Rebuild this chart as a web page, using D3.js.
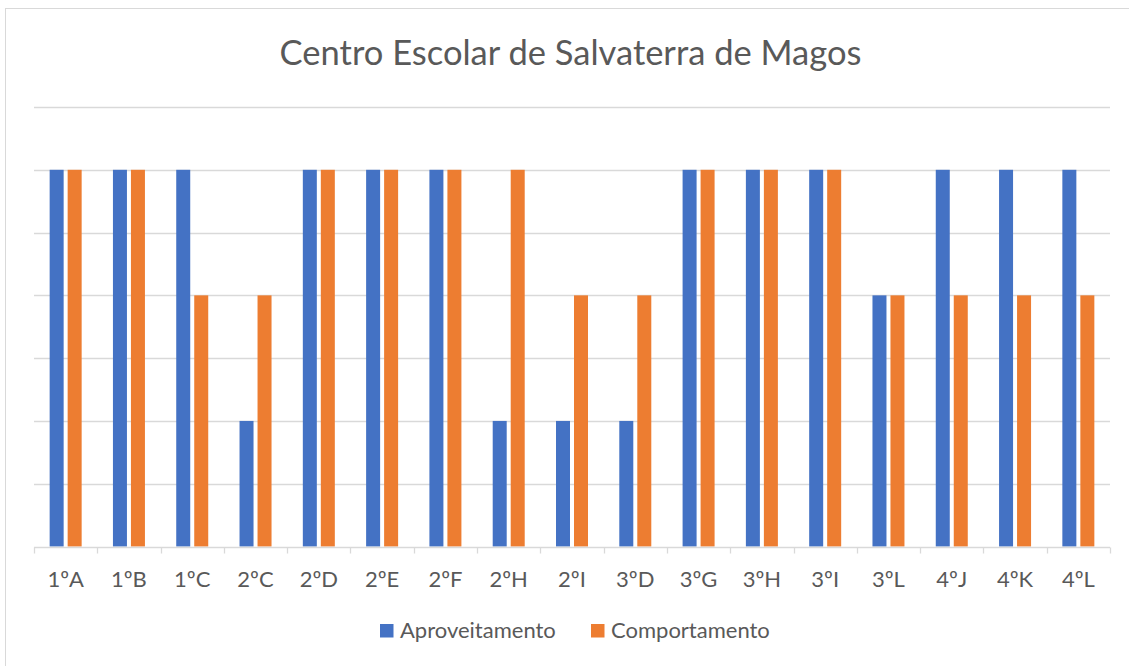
<!DOCTYPE html>
<html>
<head>
<meta charset="utf-8">
<script src="https://cdnjs.cloudflare.com/ajax/libs/d3/7.8.5/d3.min.js"></script>
<style>
  body { margin: 0; background: #fff; }
  text { font-family: Lato, "Open Sans", sans-serif; fill: #595959; }
</style>
</head>
<body>
<div id="chart"></div>
<script>
// data
const categories = ["1ºA", "1ºB", "1ºC", "2ºC", "2ºD", "2ºE", "2ºF", "2ºH", "2ºI", "3ºD", "3ºG", "3ºH", "3ºI", "3ºL", "4ºJ", "4ºK", "4ºL"];
const aproveitamento = [6, 6, 6, 2, 6, 6, 6, 2, 2, 2, 6, 6, 6, 4, 6, 6, 6];
const comportamento = [6, 6, 4, 4, 6, 6, 6, 6, 4, 4, 6, 6, 6, 4, 4, 4, 4];
const seriesNames = ["Aproveitamento", "Comportamento"];
const seriesColors = ["#4472C4", "#ED7D31"];
const yTicks = [0, 1, 2, 3, 4, 5, 6, 7];

const W = 1129, H = 666;
const svg = d3.select("#chart").append("svg")
    .attr("width", W)
    .attr("height", H);

svg.append("rect")
    .attr("width", W).attr("height", H)
    .attr("fill", "#fff");

// chart border (only top & left fall inside the picture)
svg.append("rect")
    .attr("x", 5.5).attr("y", 8.5)
    .attr("width", W + 20).attr("height", H + 20)
    .attr("fill", "none")
    .attr("stroke", "#d9d9d9");

const plot = {left: 34, right: 1110, top: 107, bottom: 546.5};

const x = d3.scaleBand()
    .domain(categories)
    .range([plot.left, plot.right]);

const y = d3.scaleLinear()
    .domain([0, 7])
    .range([plot.bottom, plot.top]);

// gridlines
svg.append("g")
    .selectAll("line")
    .data(yTicks.slice(1))
    .join("line")
    .attr("x1", plot.left)
    .attr("x2", plot.right)
    .attr("y1", d => Math.round(y(d)) + 0.5)
    .attr("y2", d => Math.round(y(d)) + 0.5)
    .attr("stroke", "#d9d9d9")
    .attr("stroke-width", 1.3);

// bars
const barW = 14, offset = 9;
const rows = categories.map((c, i) => ({cat: c, vals: [aproveitamento[i], comportamento[i]]}));

const groups = svg.append("g")
    .selectAll("g")
    .data(rows)
    .join("g")
    .attr("transform", d => `translate(${x(d.cat) + x.bandwidth() / 2}, 0)`);

groups.selectAll("rect")
    .data(d => d.vals.map((v, k) => ({v: v, k: k})))
    .join("rect")
    .attr("x", d => (d.k === 0 ? -offset : offset) - barW / 2)
    .attr("y", d => y(d.v))
    .attr("width", barW)
    .attr("height", d => y(0) - y(d.v))
    .attr("fill", d => seriesColors[d.k]);

// x axis
const xAxis = svg.append("g")
    .attr("transform", `translate(0, ${Math.round(plot.bottom) + 0.5})`);

xAxis.append("line")
    .attr("x1", plot.left).attr("x2", plot.right)
    .attr("stroke", "#d9d9d9")
    .attr("stroke-width", 1.3);

const tickPos = categories.map(c => x(c)).concat([plot.right]);
xAxis.selectAll(".tick")
    .data(tickPos)
    .join("line")
    .attr("x1", d => Math.round(d) + 0.5)
    .attr("x2", d => Math.round(d) + 0.5)
    .attr("y1", 0).attr("y2", 6)
    .attr("stroke", "#d9d9d9")
    .attr("stroke-width", 1.3);

xAxis.selectAll("text")
    .data(categories)
    .join("text")
    .attr("x", d => x(d) + x.bandwidth() / 2)
    .attr("y", 39)
    .attr("text-anchor", "middle")
    .style("font-size", "22px")
    .text(d => d);

// title
svg.append("text")
    .attr("x", 570.5)
    .attr("y", 65)
    .attr("text-anchor", "middle")
    .style("font-size", "34.5px")
    .text("Centro Escolar de Salvaterra de Magos");

// legend
const legendX = [380, 591];
const legend = svg.append("g");
seriesNames.forEach((name, k) => {
    legend.append("rect")
        .attr("x", legendX[k])
        .attr("y", 624)
        .attr("width", 13.5)
        .attr("height", 13.5)
        .attr("fill", seriesColors[k]);
    legend.append("text")
        .attr("x", legendX[k] + 20)
        .attr("y", 638)
        .style("font-size", "22px")
        .text(name);
});
</script>
</body>
</html>
